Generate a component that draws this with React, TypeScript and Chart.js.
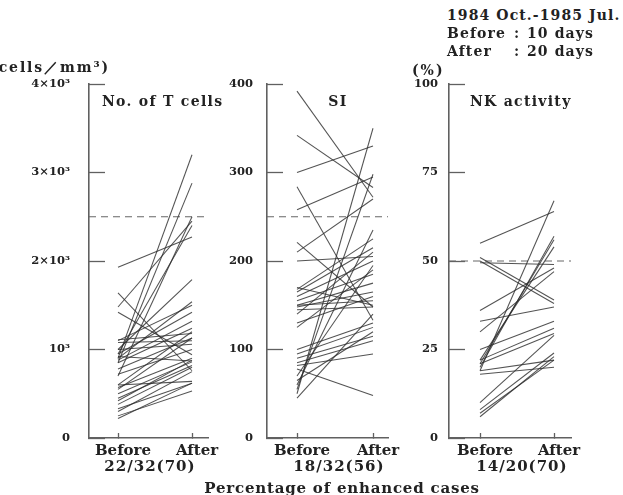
import React, { useEffect, useRef } from "react";
import { Chart, registerables } from "chart.js";

Chart.register(...registerables);

// ---------- data ----------
const CASE_LABELS = ["Before", "After"];

const tCellsBefore = [1930, 1480, 1640, 1420, 900, 850, 700, 950, 1000, 900, 1100, 1110, 1080, 950, 880, 850, 920, 1000, 780, 720, 600, 570, 550, 500, 450, 600, 420, 380, 330, 300, 250, 220];
const tCellsAfter = [2270, 2450, 760, 940, 3200, 2880, 2500, 2400, 1790, 1540, 1500, 1180, 1100, 1420, 1320, 1240, 870, 1060, 1130, 1000, 1200, 900, 1130, 860, 820, 640, 880, 800, 620, 750, 530, 620];

const siBefore = [392, 342, 300, 284, 258, 221, 210, 200, 50, 55, 60, 168, 165, 160, 155, 150, 148, 150, 145, 170, 140, 125, 130, 100, 95, 90, 85, 78, 82, 70, 45, 65];
const siAfter = [272, 283, 330, 133, 295, 148, 270, 205, 350, 298, 235, 225, 215, 200, 185, 175, 165, 155, 148, 150, 210, 190, 160, 130, 125, 115, 110, 48, 95, 195, 140, 120];

const nkBefore = [55, 19, 20, 21, 22, 51, 50, 49.5, 36, 30, 33, 25, 22, 21, 18, 19, 10, 8, 7, 6];
const nkAfter = [64, 67, 57, 56, 54, 39, 38, 49, 48, 47, 37, 33, 31, 29.5, 20, 22, 29, 24, 22, 23];

const tCellsTicks = [0, 1000, 2000, 3000, 4000];
const tCellsTickLabels = ["0", "10³", "2×10³", "3×10³", "4×10³"];
const siTicks = [0, 100, 200, 300, 400];
const siTickLabels = ["0", "100", "200", "300", "400"];
const nkTicks = [0, 25, 50, 75, 100];
const nkTickLabels = ["0", "25", "50", "75", "100"];

const thresholds = [2500, 250, 50];
const panelTitles = ["No. of T cells", "SI", "NK activity"];
const enhancedLabels = ["22/32(70)", "18/32(56)", "14/20(70)"];
const periodLabel = "1984 Oct.-1985 Jul.";
const periodRows = [["Before", "10 days"], ["After", "20 days"]];
const bottomTitle = "Percentage of enhanced cases";

// ---------- style ----------
const FONT = '"DejaVu Serif", "Liberation Serif", serif';
const TEXT = "#222";
const LINE = "rgba(45,45,45,0.82)";
const AXIS = "#606060";

type Geom = { left: number; width: number; axisX: number; beforeX: number; afterX: number; rightEnd: number; labelRight: number };

type PanelProps = {
  geom: Geom;
  before: number[];
  after: number[];
  ticks: number[];
  tickLabels: string[];
  threshold: number;
};

const TOP = 60;
const HEIGHT = 420;
const AREA_TOP = 24; // global 84
const XAXIS_H = 42; // area bottom global 438

function Panel({ geom, before, after, ticks, tickLabels, threshold }: PanelProps) {
  const ref = useRef<HTMLCanvasElement | null>(null);
  useEffect(() => {
    if (!ref.current) return;
    const spacing = geom.afterX - geom.beforeX;
    const xMin = -(geom.beforeX - geom.axisX) / spacing;
    const xMax = 1 + (geom.rightEnd - geom.afterX) / spacing;
    const datasets: any[] = before.map((b, i) => ({
      data: [
        { x: 0, y: b },
        { x: 1, y: after[i] },
      ],
      borderColor: LINE,
      borderWidth: 1.05,
      pointRadius: 0,
      tension: 0,
      fill: false,
    }));
    datasets.push({
      data: [
        { x: xMin, y: threshold },
        { x: xMax, y: threshold },
      ],
      borderColor: "#666",
      borderWidth: 1,
      borderDash: [7, 5],
      pointRadius: 0,
      fill: false,
    });
    const yMax = ticks[ticks.length - 1];
    const chart = new Chart(ref.current, {
      type: "line",
      data: { datasets },
      options: {
        animation: false,
        responsive: false,
        maintainAspectRatio: false,
        layout: { padding: { top: AREA_TOP, left: 0, bottom: 0, right: geom.width - (geom.rightEnd - geom.left) } },
        plugins: { legend: { display: false }, tooltip: { enabled: false } },
        scales: {
          x: {
            type: "linear",
            min: xMin,
            max: xMax,
            afterBuildTicks: (s: any) => {
              s.ticks = [{ value: 0 }, { value: 1 }];
            },
            afterFit: (s: any) => {
              s.height = XAXIS_H;
              s.paddingLeft = 0;
              s.paddingRight = 0;
            },
            ticks: {
              autoSkip: false,
              maxRotation: 0,
              padding: 9,
              labelOffset: 5,
              color: TEXT,
              font: { family: FONT, size: 15, weight: "bold" },
              callback: (v: any) => (v === 0 ? CASE_LABELS[0] : v === 1 ? CASE_LABELS[1] : ""),
            },
            grid: { drawOnChartArea: false, tickLength: -5, tickColor: AXIS, tickWidth: 1.3 },
            border: { display: true, color: AXIS, width: 1.6 },
          },
          y: {
            type: "linear",
            min: 0,
            max: yMax,
            afterBuildTicks: (s: any) => {
              s.ticks = ticks.map((v) => ({ value: v }));
            },
            afterFit: (s: any) => {
              s.width = geom.axisX - geom.left;
              s.paddingTop = 6;
              s.paddingBottom = 6;
            },
            ticks: {
              padding: geom.axisX - geom.labelRight + 16,
              color: TEXT,
              font: { family: FONT, size: 11.5, weight: "bold" },
              callback: (v: any) => {
                const i = ticks.indexOf(v);
                return i >= 0 ? tickLabels[i] : "";
              },
            },
            grid: { drawOnChartArea: false, tickLength: -16, tickColor: AXIS, tickWidth: 1.3 },
            border: { display: true, color: AXIS, width: 1.6 },
          },
        },
      } as any,
    });
    return () => chart.destroy();
  }, []);
  return (
    <canvas
      ref={ref}
      width={geom.width}
      height={HEIGHT}
      style={{ position: "absolute", left: geom.left, top: TOP, width: geom.width, height: HEIGHT }}
    />
  );
}

type LabelProps = { x: number; y: number; align?: "left" | "center" | "right"; size?: number; spacing?: number; children: React.ReactNode };

function Label({ x, y, align = "left", size = 14, spacing = 1.2, children }: LabelProps) {
  const tx = align === "left" ? "0" : align === "center" ? "-50%" : "-100%";
  return (
    <div
      style={{
        position: "absolute",
        left: x,
        top: y,
        transform: `translate(${tx}, -50%)`,
        whiteSpace: "nowrap",
        fontFamily: FONT,
        fontWeight: "bold",
        fontSize: size,
        letterSpacing: spacing,
        color: TEXT,
        lineHeight: 1,
      }}
    >
      {children}
    </div>
  );
}

const geoms: Geom[] = [
  { left: 0, width: 240, axisX: 89, beforeX: 118, afterX: 192, rightEnd: 208, labelRight: 70 },
  { left: 180, width: 240, axisX: 267, beforeX: 297, afterX: 373, rightEnd: 388, labelRight: 253 },
  { left: 370, width: 240, axisX: 449, beforeX: 480, afterX: 554, rightEnd: 571, labelRight: 438 },
];

export default function App() {
  return (
    <div style={{ position: "fixed", left: 0, top: 0, width: 623, height: 495, background: "#fff", overflow: "hidden" }}>
      <Panel geom={geoms[0]} before={tCellsBefore} after={tCellsAfter} ticks={tCellsTicks} tickLabels={tCellsTickLabels} threshold={thresholds[0]} />
      <Panel geom={geoms[1]} before={siBefore} after={siAfter} ticks={siTicks} tickLabels={siTickLabels} threshold={thresholds[1]} />
      <Panel geom={geoms[2]} before={nkBefore} after={nkAfter} ticks={nkTicks} tickLabels={nkTickLabels} threshold={thresholds[2]} />

      <Label x={110} y={67} align="right" size={14} spacing={1.9}>(cells／mm³)</Label>
      <Label x={412} y={70} size={14} spacing={2}>(%)</Label>

      <Label x={447} y={15} size={14} spacing={1.1}>{periodLabel}</Label>
      {periodRows.map((r, i) => (
        <React.Fragment key={r[0]}>
          <Label x={447} y={33 + i * 18} size={14} spacing={1.1}>{r[0]}</Label>
          <Label x={514} y={33 + i * 18} size={14} spacing={0}>:</Label>
          <Label x={527} y={33 + i * 18} size={14} spacing={1.1}>{r[1]}</Label>
        </React.Fragment>
      ))}

      <Label x={102} y={101} size={14} spacing={1.3}>{panelTitles[0]}</Label>
      <Label x={338} y={101} align="center" size={14} spacing={1.3}>{panelTitles[1]}</Label>
      <Label x={470} y={101} size={14} spacing={1.3}>{panelTitles[2]}</Label>

      <Label x={150} y={466} align="center" size={15} spacing={1}>{enhancedLabels[0]}</Label>
      <Label x={339} y={466} align="center" size={15} spacing={1}>{enhancedLabels[1]}</Label>
      <Label x={522} y={466} align="center" size={15} spacing={1}>{enhancedLabels[2]}</Label>

      <Label x={342} y={488} align="center" size={15} spacing={0.8}>{bottomTitle}</Label>
    </div>
  );
}
